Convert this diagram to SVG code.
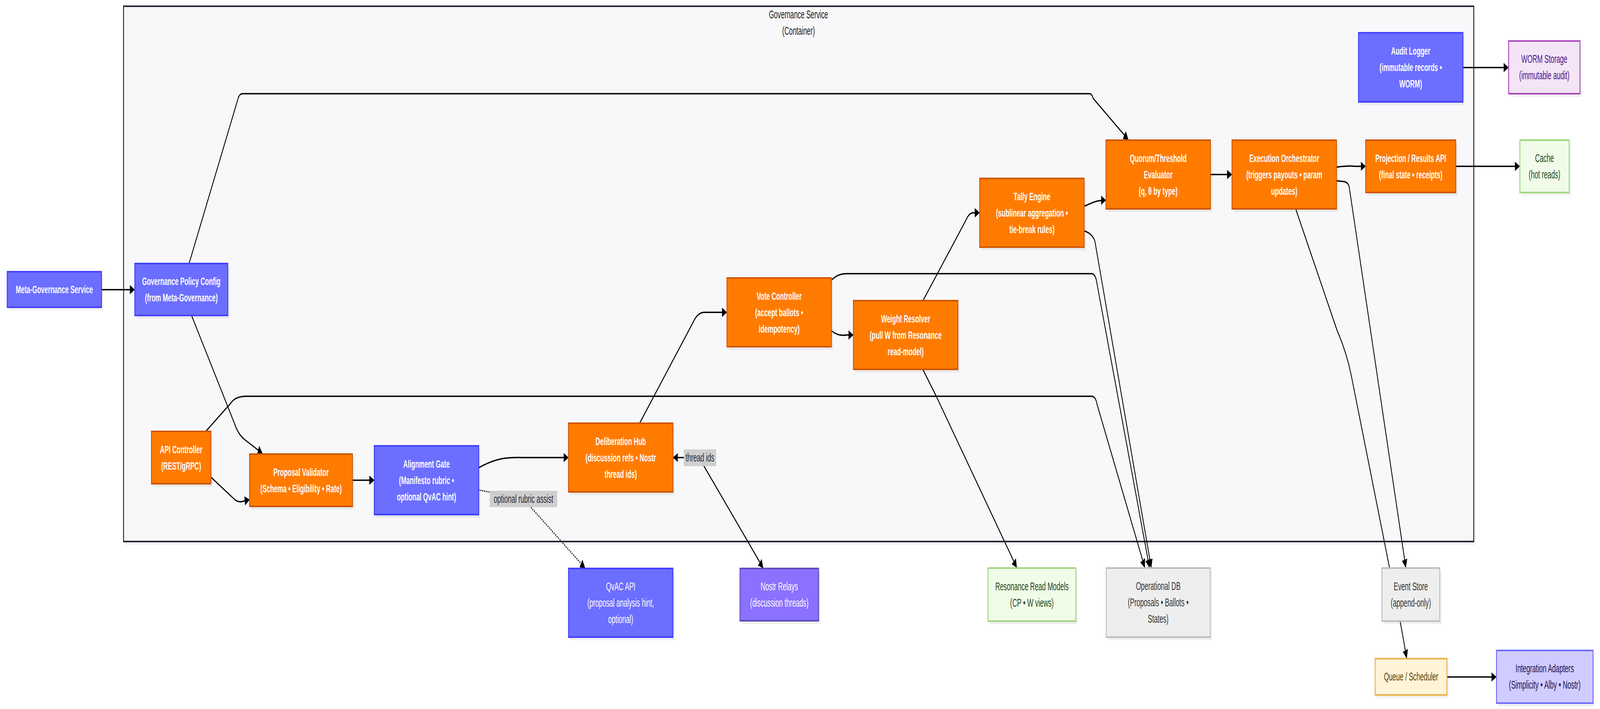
<svg xmlns="http://www.w3.org/2000/svg" width="7109" height="1816" viewBox="0 0 7109 1816" preserveAspectRatio="none" style="width:100vw;height:100vh;display:block">
<style>
text{font-family:"Liberation Sans",Arial,sans-serif;text-anchor:middle;dominant-baseline:central}
.tb{font-size:28px;font-weight:bold;fill:#fff}
.tr{font-size:29px;font-weight:normal}
.sh{fill:#000;fill-opacity:0.06}
.box{stroke-width:4}
.blue .box{fill:#6c6eff;stroke:#4040ff}
.orange .box{fill:#ff7b00;stroke:#cc5500}
.ext .box{fill:#6c6eff;stroke:#4040ff}
.ext text{fill:#fff}
.nostr .box{fill:#8c70ff;stroke:#5a4bb8}
.nostr text{fill:#fff}
.green .box{fill:#f0fce8;stroke:#9cd67c}
.green text{fill:#22481a}
.gray .box{fill:#eeeeee;stroke:#bdbdbd}
.gray text{fill:#333}
.purple .box{fill:#f3e5f5;stroke:#ab47bc}
.purple text{fill:#4a148c}
.yellow .box{fill:#fff4d8;stroke:#e8b04a}
.yellow text{fill:#5e3f00}
.lav .box{fill:#d1ccff;stroke:#6b6bff}
.lav text{fill:#1b1250}
.edge{fill:none;stroke:#000;stroke-width:3.5;marker-end:url(#arr)}
.dot{stroke-dasharray:4 4}
.lbl{fill:#cccccc;fill-opacity:0.95}
.lt{font-size:29px;fill:#2a2a3a}
</style>
<defs>
<marker id="arr" markerUnits="userSpaceOnUse" markerWidth="22" markerHeight="24" refX="20" refY="12" orient="auto-start-reverse">
<path d="M0,0 L22,12 L0,24 z" fill="#000"/>
</marker>
</defs>
<rect x="0" y="0" width="7109" height="1816" fill="#ffffff"/>

<g id="governance-service-container">
<rect class="sh" x="557" y="24" width="5999" height="1371"/>
<rect x="549" y="16" width="5999" height="1371" fill="#f8f8fa" stroke="#24243a" stroke-width="4"/>
<text class="tr" x="3548" y="37" fill="#1a1a1a">Governance Service</text>
<text class="tr" x="3548" y="79" fill="#1a1a1a">(Container)</text>
</g>

<g id="connectors">
<path class="edge" d="M451,742 L597,742"/>
<path class="edge" d="M840,675 L1058,252 Q1064,240 1078,240 L4840,240 Q4852,240 4857,252 L5012,357"/>
<path class="edge" d="M851,808 L1042,1085 Q1058,1112 1085,1125 L1165,1161"/>
<path class="edge" d="M937,1222 L1040,1278 Q1058,1288 1080,1284 L1107,1280"/>
<path class="edge" d="M914,1105 L1025,1033 Q1045,1015 1094,1015 L4850,1015 Q4868,1015 4874,1035 L5086,1453"/>
<path class="edge" d="M1566,1230 L1661,1230"/>
<path class="edge" d="M2127,1198 C2220,1168 2270,1172 2340,1172 L2524,1172"/>
<path class="edge dot" d="M2127,1255 L2326,1278 L2598,1454"/>
<path class="edge" style="marker-start:url(#arr)" d="M2992,1172 L3090,1172 Q3110,1172 3122,1188 L3390,1454"/>
<path class="edge" d="M2842,1084 L3080,825 Q3100,800 3130,800 L3228,800"/>
<path class="edge" d="M3694,847 Q3725,862 3760,858 L3790,858"/>
<path class="edge" d="M3694,718 Q3720,701 3763,701 L4850,701 Q4866,701 4872,720 L5107,1453"/>
<path class="edge" d="M4101,770 L4290,566 Q4305,545 4325,545 L4351,545"/>
<path class="edge" d="M4101,947 L4160,1015 L4517,1453"/>
<path class="edge" d="M4816,528 C4850,522 4860,513 4912,513"/>
<path class="edge" d="M4816,591 Q4862,600 4867,625 L5115,1453"/>
<path class="edge" d="M5378,447 L5472,447"/>
<path class="edge" d="M5938,428 Q5990,424 6020,426 L6066,426"/>
<path class="edge" d="M5938,463 L5970,465 Q5990,466 5995,480 L6246,1453"/>
<path class="edge" d="M5758,537 L5940,845 Q5985,905 6005,965 L6221,1591 L6250,1685"/>
<path class="edge" d="M6468,426 L6751,426"/>
<path class="edge" d="M6500,173 L6701,173"/>
<path class="edge" d="M6429,1734 L6647,1734"/>
<g id="label-optional-rubric-assist">
<rect class="lbl" x="2176" y="1257" width="300" height="42"/>
<text class="lt" x="2326" y="1278">optional rubric assist</text>
</g>
<g id="label-thread-ids">
<rect class="lbl" x="3038" y="1151" width="144" height="43"/>
<text class="lt" x="3110" y="1172">thread ids</text>
</g>
</g>

<g id="meta-governance-service" class="blue">
<rect class="sh" x="40" y="704" width="419" height="91"/>
<rect class="box" x="32" y="696" width="419" height="91"/>
<text class="tb" x="241.5" y="741.5">Meta-Governance Service</text>
</g>

<g id="governance-policy-config" class="blue">
<rect class="sh" x="607" y="683" width="413" height="133"/>
<rect class="box" x="599" y="675" width="413" height="133"/>
<text class="tb"><tspan x="805.5" y="720.5">Governance Policy Config</tspan><tspan x="805.5" y="762.5">(from Meta-Governance)</tspan></text>
</g>

<g id="api-controller" class="orange">
<rect class="sh" x="681" y="1113" width="264" height="134"/>
<rect class="box" x="673" y="1105" width="264" height="134"/>
<text class="tb"><tspan x="805" y="1151">API Controller</tspan><tspan x="805" y="1193">(REST/gRPC)</tspan></text>
</g>

<g id="proposal-validator" class="orange">
<rect class="sh" x="1117" y="1171" width="457" height="134"/>
<rect class="box" x="1109" y="1163" width="457" height="134"/>
<text class="tb"><tspan x="1337.5" y="1209">Proposal Validator</tspan><tspan x="1337.5" y="1251">(Schema • Eligibility • Rate)</tspan></text>
</g>

<g id="alignment-gate" class="blue">
<rect class="sh" x="1671" y="1150" width="464" height="176"/>
<rect class="box" x="1663" y="1142" width="464" height="176"/>
<text class="tb"><tspan x="1895" y="1188">Alignment Gate</tspan><tspan x="1895" y="1230">(Manifesto rubric •</tspan><tspan x="1895" y="1272">optional QvAC hint)</tspan></text>
</g>

<g id="deliberation-hub" class="orange">
<rect class="sh" x="2534" y="1092" width="464" height="176"/>
<rect class="box" x="2526" y="1084" width="464" height="176"/>
<text class="tb"><tspan x="2758" y="1130">Deliberation Hub</tspan><tspan x="2758" y="1172">(discussion refs • Nostr</tspan><tspan x="2758" y="1214">thread ids)</tspan></text>
</g>

<g id="qvac-api" class="ext">
<rect class="sh" x="2534" y="1464" width="464" height="176"/>
<rect class="box" x="2526" y="1456" width="464" height="176"/>
<text class="tr"><tspan x="2758" y="1502">QvAC API</tspan><tspan x="2758" y="1544">(proposal analysis hint,</tspan><tspan x="2758" y="1586">optional)</tspan></text>
</g>

<g id="nostr-relays" class="nostr">
<rect class="sh" x="3296" y="1464" width="349" height="134"/>
<rect class="box" x="3288" y="1456" width="349" height="134"/>
<text class="tr"><tspan x="3462.5" y="1502">Nostr Relays</tspan><tspan x="3462.5" y="1544">(discussion threads)</tspan></text>
</g>

<g id="vote-controller" class="orange">
<rect class="sh" x="3238" y="720" width="464" height="176"/>
<rect class="box" x="3230" y="712" width="464" height="176"/>
<text class="tb"><tspan x="3462" y="758">Vote Controller</tspan><tspan x="3462" y="800">(accept ballots •</tspan><tspan x="3462" y="842">idempotency)</tspan></text>
</g>

<g id="weight-resolver" class="orange">
<rect class="sh" x="3800" y="778" width="464" height="176"/>
<rect class="box" x="3792" y="770" width="464" height="176"/>
<text class="tb"><tspan x="4024" y="816">Weight Resolver</tspan><tspan x="4024" y="858">(pull W from Resonance</tspan><tspan x="4024" y="900">read-model)</tspan></text>
</g>

<g id="tally-engine" class="orange">
<rect class="sh" x="4361" y="465" width="464" height="176"/>
<rect class="box" x="4353" y="457" width="464" height="176"/>
<text class="tb"><tspan x="4585" y="503">Tally Engine</tspan><tspan x="4585" y="545">(sublinear aggregation •</tspan><tspan x="4585" y="587">tie-break rules)</tspan></text>
</g>

<g id="quorum-threshold-evaluator" class="orange">
<rect class="sh" x="4922" y="367" width="464" height="176"/>
<rect class="box" x="4914" y="359" width="464" height="176"/>
<text class="tb"><tspan x="5146" y="405">Quorum/Threshold</tspan><tspan x="5146" y="447">Evaluator</tspan><tspan x="5146" y="489">(q, θ by type)</tspan></text>
</g>

<g id="execution-orchestrator" class="orange">
<rect class="sh" x="5482" y="367" width="464" height="176"/>
<rect class="box" x="5474" y="359" width="464" height="176"/>
<text class="tb"><tspan x="5706" y="405">Execution Orchestrator</tspan><tspan x="5706" y="447">(triggers payouts • param</tspan><tspan x="5706" y="489">updates)</tspan></text>
</g>

<g id="projection-results-api" class="orange">
<rect class="sh" x="6076" y="367" width="400" height="134"/>
<rect class="box" x="6068" y="359" width="400" height="134"/>
<text class="tb"><tspan x="6268" y="405">Projection / Results API</tspan><tspan x="6268" y="447">(final state • receipts)</tspan></text>
</g>

<g id="audit-logger" class="blue">
<rect class="sh" x="6044" y="92" width="464" height="177"/>
<rect class="box" x="6036" y="84" width="464" height="177"/>
<text class="tb"><tspan x="6268" y="130.5">Audit Logger</tspan><tspan x="6268" y="172.5">(immutable records •</tspan><tspan x="6268" y="214.5">WORM)</tspan></text>
</g>

<g id="worm-storage" class="purple">
<rect class="sh" x="6711" y="113" width="317" height="135"/>
<rect class="box" x="6703" y="105" width="317" height="135"/>
<text class="tr"><tspan x="6861.5" y="151.5">WORM Storage</tspan><tspan x="6861.5" y="193.5">(immutable audit)</tspan></text>
</g>

<g id="cache" class="green">
<rect class="sh" x="6761" y="367" width="219" height="134"/>
<rect class="box" x="6753" y="359" width="219" height="134"/>
<text class="tr"><tspan x="6862.5" y="405">Cache</tspan><tspan x="6862.5" y="447">(hot reads)</tspan></text>
</g>

<g id="resonance-read-models" class="green">
<rect class="sh" x="4398" y="1463" width="390" height="136"/>
<rect class="box" x="4390" y="1455" width="390" height="136"/>
<text class="tr"><tspan x="4585" y="1502">Resonance Read Models</tspan><tspan x="4585" y="1544">(CP • W views)</tspan></text>
</g>

<g id="operational-db" class="gray">
<rect class="sh" x="4923" y="1463" width="462" height="177"/>
<rect class="box" x="4915" y="1455" width="462" height="177"/>
<text class="tr"><tspan x="5146" y="1501.5">Operational DB</tspan><tspan x="5146" y="1543.5">(Proposals • Ballots •</tspan><tspan x="5146" y="1585.5">States)</tspan></text>
</g>

<g id="event-store" class="gray">
<rect class="sh" x="6148" y="1463" width="257" height="136"/>
<rect class="box" x="6140" y="1455" width="257" height="136"/>
<text class="tr"><tspan x="6268.5" y="1502">Event Store</tspan><tspan x="6268.5" y="1544">(append-only)</tspan></text>
</g>

<g id="queue-scheduler" class="yellow">
<rect class="sh" x="6118" y="1695" width="319" height="93"/>
<rect class="box" x="6110" y="1687" width="319" height="93"/>
<text class="tr" x="6269.5" y="1733.5">Queue / Scheduler</text>
</g>

<g id="integration-adapters" class="lav">
<rect class="sh" x="6657" y="1674" width="429" height="135"/>
<rect class="box" x="6649" y="1666" width="429" height="135"/>
<text class="tr"><tspan x="6863.5" y="1712.5">Integration Adapters</tspan><tspan x="6863.5" y="1754.5">(Simplicity • Alby • Nostr)</tspan></text>
</g>
</svg>
